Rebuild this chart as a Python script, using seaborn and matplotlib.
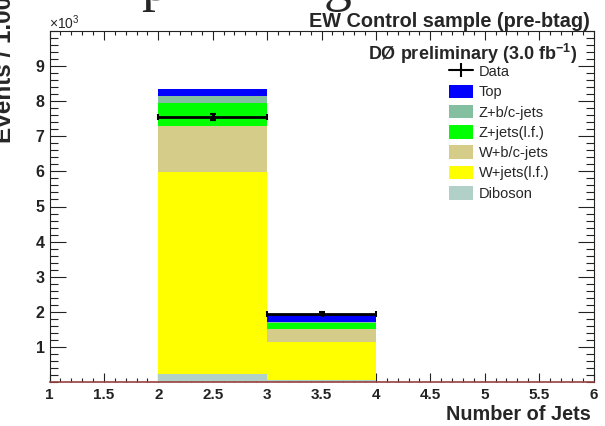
import numpy as np
import pandas as pd
import matplotlib
matplotlib.use("Agg")
import matplotlib.pyplot as plt
import seaborn as sns
from matplotlib.patches import Patch
from matplotlib.lines import Line2D
from matplotlib.ticker import MultipleLocator

# ---- data (events in units of 10^3) ----
bin_centers = [2.5, 3.5]
bin_edges = [1, 2, 3, 4, 5, 6]
samples = ["Top", "Z+b/c-jets", "Z+jets(l.f.)", "W+b/c-jets", "W+jets(l.f.)", "Diboson"]
top = [0.20, 0.20]
zbc = [0.19, 0.03]
zlf = [0.65, 0.17]
wbc = [1.32, 0.37]
wlf = [5.76, 1.07]
diboson = [0.22, 0.06]
data_vals = [7.55, 1.95]
data_err = [0.09, 0.045]
colors = ["#0000ff", "#84c0a0", "#00ff00", "#d4cc88", "#ffff00", "#b0d0c8"]
x_ticks = [1, 1.5, 2, 2.5, 3, 3.5, 4, 4.5, 5, 5.5, 6]
x_tick_labels = ["1", "1.5", "2", "2.5", "3", "3.5", "4", "4.5", "5", "5.5", "6"]
y_ticks = [1, 2, 3, 4, 5, 6, 7, 8, 9]
y_tick_labels = ["1", "2", "3", "4", "5", "6", "7", "8", "9"]

series = [top, zbc, zlf, wbc, wlf, diboson]
rows = []
for name, vals in zip(samples, series):
    for x, v in zip(bin_centers, vals):
        rows.append({"njets": x, "sample": name, "events": v})
df = pd.DataFrame(rows)

sns.set_style("ticks")
plt.rcParams["font.family"] = ["Liberation Sans", "DejaVu Sans"]
plt.rcParams["mathtext.fontset"] = "custom"
plt.rcParams["mathtext.rm"] = "Liberation Sans"
plt.rcParams["mathtext.bf"] = "Liberation Sans:bold"

fig = plt.figure(figsize=(6.05, 4.26), dpi=100)
ax = fig.add_axes([49.5 / 605, 1 - 382 / 426, (593.5 - 49.5) / 605, (382 - 31) / 426])

sns.histplot(data=df, x="njets", weights="events", hue="sample", hue_order=samples,
             palette=colors, multiple="stack", bins=bin_edges, element="bars",
             alpha=1, linewidth=0, legend=False, ax=ax)

ax.errorbar(bin_centers, data_vals, xerr=0.5, yerr=data_err, fmt="o", color="black",
            markersize=2.5, elinewidth=2, capsize=2, capthick=1.5, zorder=5)

ax.set_xlim(1, 6)
ax.set_ylim(0, 10)
ax.xaxis.set_minor_locator(MultipleLocator(0.1))
ax.yaxis.set_minor_locator(MultipleLocator(0.2))
ax.set_yticks(y_ticks)
ax.set_yticklabels(y_tick_labels)
ax.set_xticks(x_ticks)
ax.set_xticklabels(x_tick_labels)
ax.tick_params(axis="both", which="both", direction="in", top=True, right=True,
               colors="#222222", width=0.8)
ax.tick_params(axis="x", which="major", length=6.5, pad=4, labelsize=11)
ax.tick_params(axis="x", which="minor", length=3.2)
ax.tick_params(axis="y", which="major", length=11.5, pad=3.5, labelsize=11.5)
ax.tick_params(axis="y", which="minor", length=5.8)
for lab in ax.get_xticklabels() + ax.get_yticklabels():
    lab.set_fontweight("bold")
for s in ax.spines.values():
    s.set_linewidth(0.8)
    s.set_color("#222222")
ax.spines["bottom"].set_color("#9a4040")
ax.spines["bottom"].set_linewidth(1.2)

ax.set_xlabel("")
ax.set_ylabel("")
fig.text(591 / 605, 1 - 420 / 426, "Number of Jets", ha="right", va="baseline",
         fontsize=14.3, fontweight="bold")
fig.text(-7 / 605, 1 + 4 / 426, "Events / 1.00", rotation=90, ha="left", va="top",
         fontsize=17.5, fontweight="bold")
fig.text(590 / 605, 1 - 27 / 426, "EW Control sample (pre-btag)", ha="right",
         va="baseline", fontsize=14.3, fontweight="bold")
fig.text(577 / 605, 1 - 60 / 426, r"DØ preliminary (3.0 fb$^{\mathbf{-1}}$)", ha="right",
         va="baseline", fontsize=13, fontweight="bold")
fig.text(49 / 605, 1 - 29 / 426, r"$\times$10$^{3}$", ha="left", va="baseline",
         fontsize=10)
# remnants of a large cut-off serif title
fig.text(141 / 605, 1.0, "p", ha="left", va="baseline", fontsize=40,
         family="Liberation Serif")
fig.text(324 / 605, 1.0, "g", ha="left", va="baseline", fontsize=40,
         family="Liberation Serif")

handles = [Line2D([0], [0], color="black", lw=1.5, marker="|", markersize=10,
                  markeredgewidth=1.5)]
handles += [Patch(facecolor=c, edgecolor="none") for c in colors]
labels = ["Data"] + samples
ax.legend(handles, labels, loc="upper left", bbox_to_anchor=(0.735, 0.905),
          frameon=False, fontsize=10.5, borderpad=0, handlelength=1.6,
          handleheight=1.05, labelspacing=0.38, handletextpad=0.4,
          borderaxespad=0)

fig.savefig("out.png", dpi=100)
